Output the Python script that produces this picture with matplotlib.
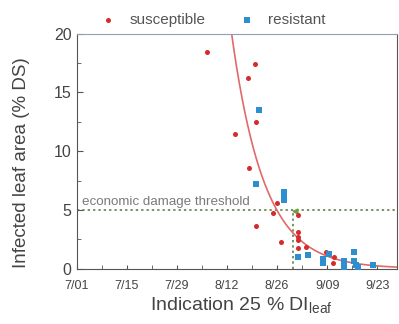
import numpy as np
import matplotlib
matplotlib.use("Agg")
from matplotlib import pyplot as plt

plt.rcParams['font.family'] = ['Liberation Sans', 'DejaVu Sans']
plt.rcParams['mathtext.fontset'] = 'custom'
plt.rcParams['mathtext.rm'] = 'Liberation Sans'
plt.rcParams['mathtext.it'] = 'Liberation Sans:italic'

# days after 7/01 and infected leaf area (% DS)
sus_day = [36.3, 44.2, 47.9, 49.8, 50.0, 48.1, 50.1, 55.9, 54.9, 57.0,
           61.9, 61.9, 61.9, 61.9, 61.9, 64.0, 69.8, 71.8, 71.6]
sus_ds = [18.4, 11.46, 16.2, 17.4, 12.45, 8.55, 3.6, 5.6, 4.75, 2.3,
          4.55, 3.15, 2.72, 2.42, 1.74, 1.86, 1.42, 1.0, 0.46]

res_day = [50.9, 50.0, 57.8, 57.8, 57.8, 61.9, 64.7, 68.7, 68.7, 70.6,
           74.7, 74.7, 77.5, 77.5, 78.0, 78.7, 82.7]
res_ds = [13.5, 7.2, 6.55, 6.27, 5.85, 1.02, 1.17, 0.8, 0.51, 1.25,
          0.68, 0.12, 1.45, 0.68, 0.31, 0.12, 0.31]

# fitted decay curve: ds = fit_top * exp(-fit_rate * (day - fit_start))
fit_top = 20.0
fit_start = 43.3
fit_rate = 0.11

threshold = 5.0
threshold_day = 60.5

tick_days = [0, 14, 28, 42, 56, 70, 84]
tick_labels = ['7/01', '7/15', '7/29', '8/12', '8/26', '9/09', '9/23']

fig = plt.figure(figsize=(3.99, 3.24), dpi=100)
ax = fig.add_axes([0.192, 0.171, 0.803, 0.725])

# threshold lines
ax.axhline(threshold, color='#55733a', linestyle=(0, (1.5, 2)), linewidth=1.1)
ax.plot([threshold_day, threshold_day], [0, threshold], color='#55733a',
        linestyle=(0, (1.5, 2)), linewidth=1.1)
ax.plot([threshold_day + 0.4], [threshold - 0.1], marker='<', color='#6aa040',
        markersize=3.5, linestyle='none')
ax.text(1.4, 5.7, 'economic damage threshold', fontsize=9.6, color='#7a7a7a',
        va='center', ha='left')

# fitted curve
t = np.linspace(fit_start - 1, 89.5, 300)
ax.plot(t, fit_top * np.exp(-fit_rate * (t - fit_start)), color='#e06a6a',
        linewidth=1.2)

s1 = ax.scatter(sus_day, sus_ds, s=13, color='#d62b2b', marker='o',
                linewidths=0, label='susceptible', zorder=3)
s2 = ax.scatter(res_day, res_ds, s=14, color='#2e8fd0', marker='s',
                linewidths=0, label='resistant', zorder=3)

ax.set_xlim(0, 89.5)
ax.set_ylim(0, 20)
ax.set_xticks(tick_days)
ax.set_xticklabels(tick_labels)
ax.set_xticks([7, 21, 35, 49, 63, 77], minor=True)
ax.set_yticks([0, 5, 10, 15, 20])
ax.set_yticks([2.5, 7.5, 12.5, 17.5], minor=True)

ax.tick_params(axis='both', which='both', direction='in', colors='#555555')
ax.tick_params(axis='x', which='major', length=3, pad=8, labelsize=9,
               labelcolor='#444444')
ax.tick_params(axis='x', which='minor', length=3)
ax.tick_params(axis='y', which='major', length=4, pad=3.5, labelsize=11.5,
               labelcolor='#444444')
ax.tick_params(axis='y', which='minor', length=3)

for side in ['left', 'bottom', 'right']:
    ax.spines[side].set_color('#555555')
ax.spines['top'].set_color('#8fa0b0')

ax.set_ylabel('Infected leaf area (% DS)', fontsize=13.5, color='#444444')
ax.yaxis.set_label_coords(-0.144, 0.45)
ax.set_xlabel('Indication 25 % DI$_{\\mathrm{leaf}}$', fontsize=14,
              color='#444444')
ax.xaxis.set_label_coords(0.515, -0.112)

ax.legend(handles=[s1, s2], loc='lower center', bbox_to_anchor=(0.415, 0.995),
          ncol=2, frameon=False, fontsize=11, labelcolor='#555555',
          handletextpad=0.4, columnspacing=1.7, markerscale=1.0,
          borderaxespad=0.1)

fig.savefig('out.png', dpi=100)
